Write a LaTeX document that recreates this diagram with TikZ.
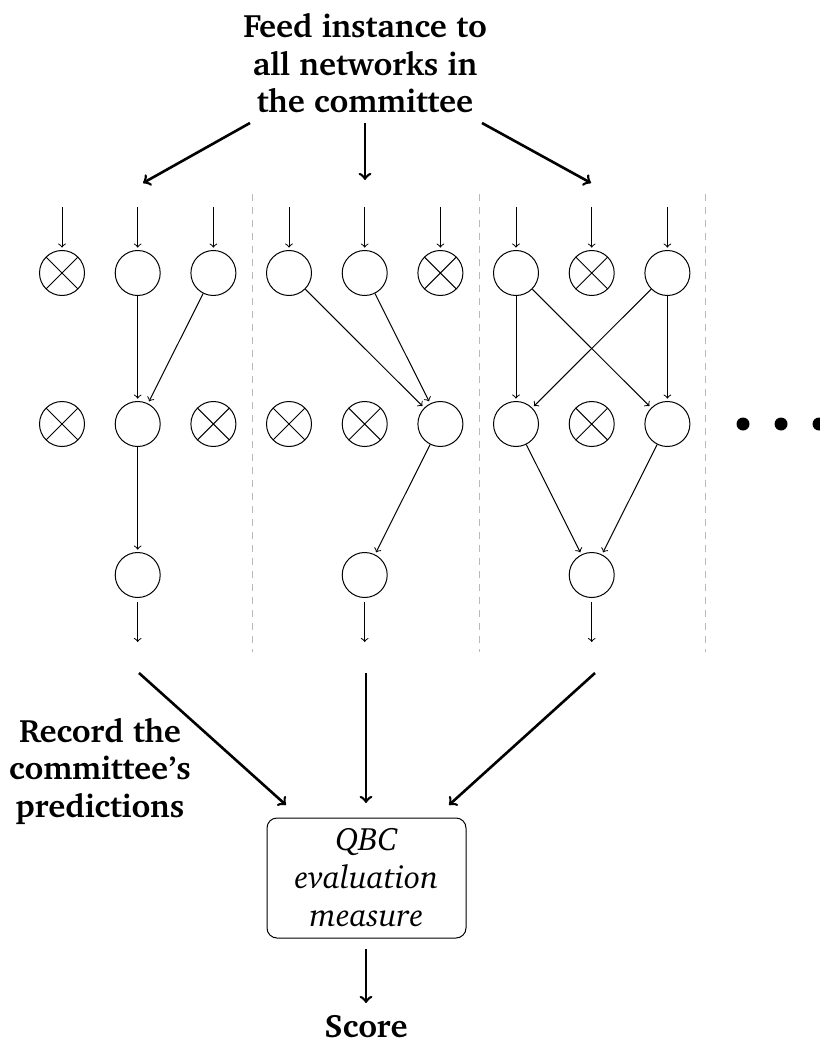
\documentclass[tikz,border=0pt]{standalone}
\usepackage[T1]{fontenc}
\usepackage{charter}
\begin{document}
\begin{tikzpicture}[x=0.5pt,y=-0.5pt,
  neuron/.style={circle, draw, minimum size=22.5pt, inner sep=0pt, line width=0.5pt},
  dropped/.style={neuron, path picture={
      \draw[line width=0.5pt] (path picture bounding box.north west) -- (path picture bounding box.south east)
            (path picture bounding box.south west) -- (path picture bounding box.north east);}},
  link/.style={->, line width=0.5pt, shorten >=1.2pt},
  feed/.style={->, line width=1.3pt},
  sep/.style={draw=gray!55, dash pattern=on 3.5pt off 3pt, line width=0.5pt},
  label/.style={align=center, inner sep=0pt, font=\fontsize{16.2}{18.75}\selectfont\bfseries},
  measure/.style={draw, rounded corners=5pt, line width=0.5pt, minimum width=99.5pt, minimum height=60pt,
      align=center, inner sep=0pt, font=\fontsize{16.2}{19}\selectfont\itshape},
  dot/.style={circle, fill, inner sep=0pt, minimum size=6.5pt}]
\useasboundingbox (0,0) rectangle (819,1043);

% instruction at the top and its three arrows
\node[label] (feed) at (365,63) {Feed instance to\\all networks in\\the committee};
\coordinate (fa1) at (250,123); \coordinate (fb1) at (143,183);
\coordinate (fa2) at (365,123); \coordinate (fb2) at (365,180);
\coordinate (fa3) at (482,123); \coordinate (fb3) at (591,183);
\draw[feed] (fa1) -- (fb1);
\draw[feed] (fa2) -- (fb2);
\draw[feed] (fa3) -- (fb3);

% separators between the committee members
\draw[sep] (252,194) -- (252,652);
\draw[sep] (479,194) -- (479,652);
\draw[sep] (705,194) -- (705,652);

% ---- network 1 ----
\node[dropped] (t11) at (62,273) {};
\node[neuron]  (t12) at (137.7,273) {};
\node[neuron]  (t13) at (213.4,273) {};
\node[dropped] (m11) at (62,424) {};
\node[neuron]  (m12) at (137.7,424) {};
\node[dropped] (m13) at (213.4,424) {};
\node[neuron]  (o1)  at (137.7,575) {};
% ---- network 2 ----
\node[neuron]  (t21) at (289,273) {};
\node[neuron]  (t22) at (364.7,273) {};
\node[dropped] (t23) at (440.4,273) {};
\node[dropped] (m21) at (289,424) {};
\node[dropped] (m22) at (364.7,424) {};
\node[neuron]  (m23) at (440.4,424) {};
\node[neuron]  (o2)  at (364.7,575) {};
% ---- network 3 ----
\node[neuron]  (t31) at (516,273) {};
\node[dropped] (t32) at (591.7,273) {};
\node[neuron]  (t33) at (667.4,273) {};
\node[neuron]  (m31) at (516,424) {};
\node[dropped] (m32) at (591.7,424) {};
\node[neuron]  (m33) at (667.4,424) {};
\node[neuron]  (o3)  at (591.7,575) {};

% inputs
\foreach \n/\x in {t11/62, t12/137.7, t13/213.4, t21/289, t22/364.7, t23/440.4, t31/516, t32/591.7, t33/667.4}{
  \coordinate (in-\n) at (\x,207);
  \draw[link] (in-\n) -- (\n);
}
% outputs
\foreach \n/\x in {o1/137.7, o2/364.7, o3/591.7}{
  \coordinate (out-\n) at (\x,642);
  \draw[link, shorten <=2pt, shorten >=0pt] (\n) -- (out-\n);
}

% connections
\draw[link] (t12) -- (m12);
\draw[link] (t13) -- (m12);
\draw[link] (m12) -- (o1);
\draw[link] (t21) -- (m23);
\draw[link] (t22) -- (m23);
\draw[link] (m23) -- (o2);
\draw[link] (t31) -- (m31);
\draw[link] (t31) -- (m33);
\draw[link] (t33) -- (m31);
\draw[link] (t33) -- (m33);
\draw[link] (m31) -- (o3);
\draw[link] (m33) -- (o3);

% more committee members
\node[dot] (d1) at (743,424) {};
\node[dot] (d2) at (781,424) {};
\node[dot] (d3) at (819,424) {};

% collecting the predictions
\node[label] (record) at (100,771) {Record the\\committee's\\predictions};
\node[measure] (qbc) at (366.5,878) {QBC\\evaluation\\measure};
\coordinate (ra1) at (139,673); \coordinate (rb1) at (286,805);
\coordinate (ra2) at (366,673); \coordinate (rb2) at (366,803);
\coordinate (ra3) at (595,673); \coordinate (rb3) at (449,805);
\draw[feed] (ra1) -- (rb1);
\draw[feed] (ra2) -- (rb2);
\draw[feed] (ra3) -- (rb3);

% final score
\node[label, anchor=base] (score) at (366,1037) {Score};
\coordinate (sa) at (366,949); \coordinate (sb) at (366,1003);
\draw[feed] (sa) -- (sb);
\end{tikzpicture}
\end{document}
